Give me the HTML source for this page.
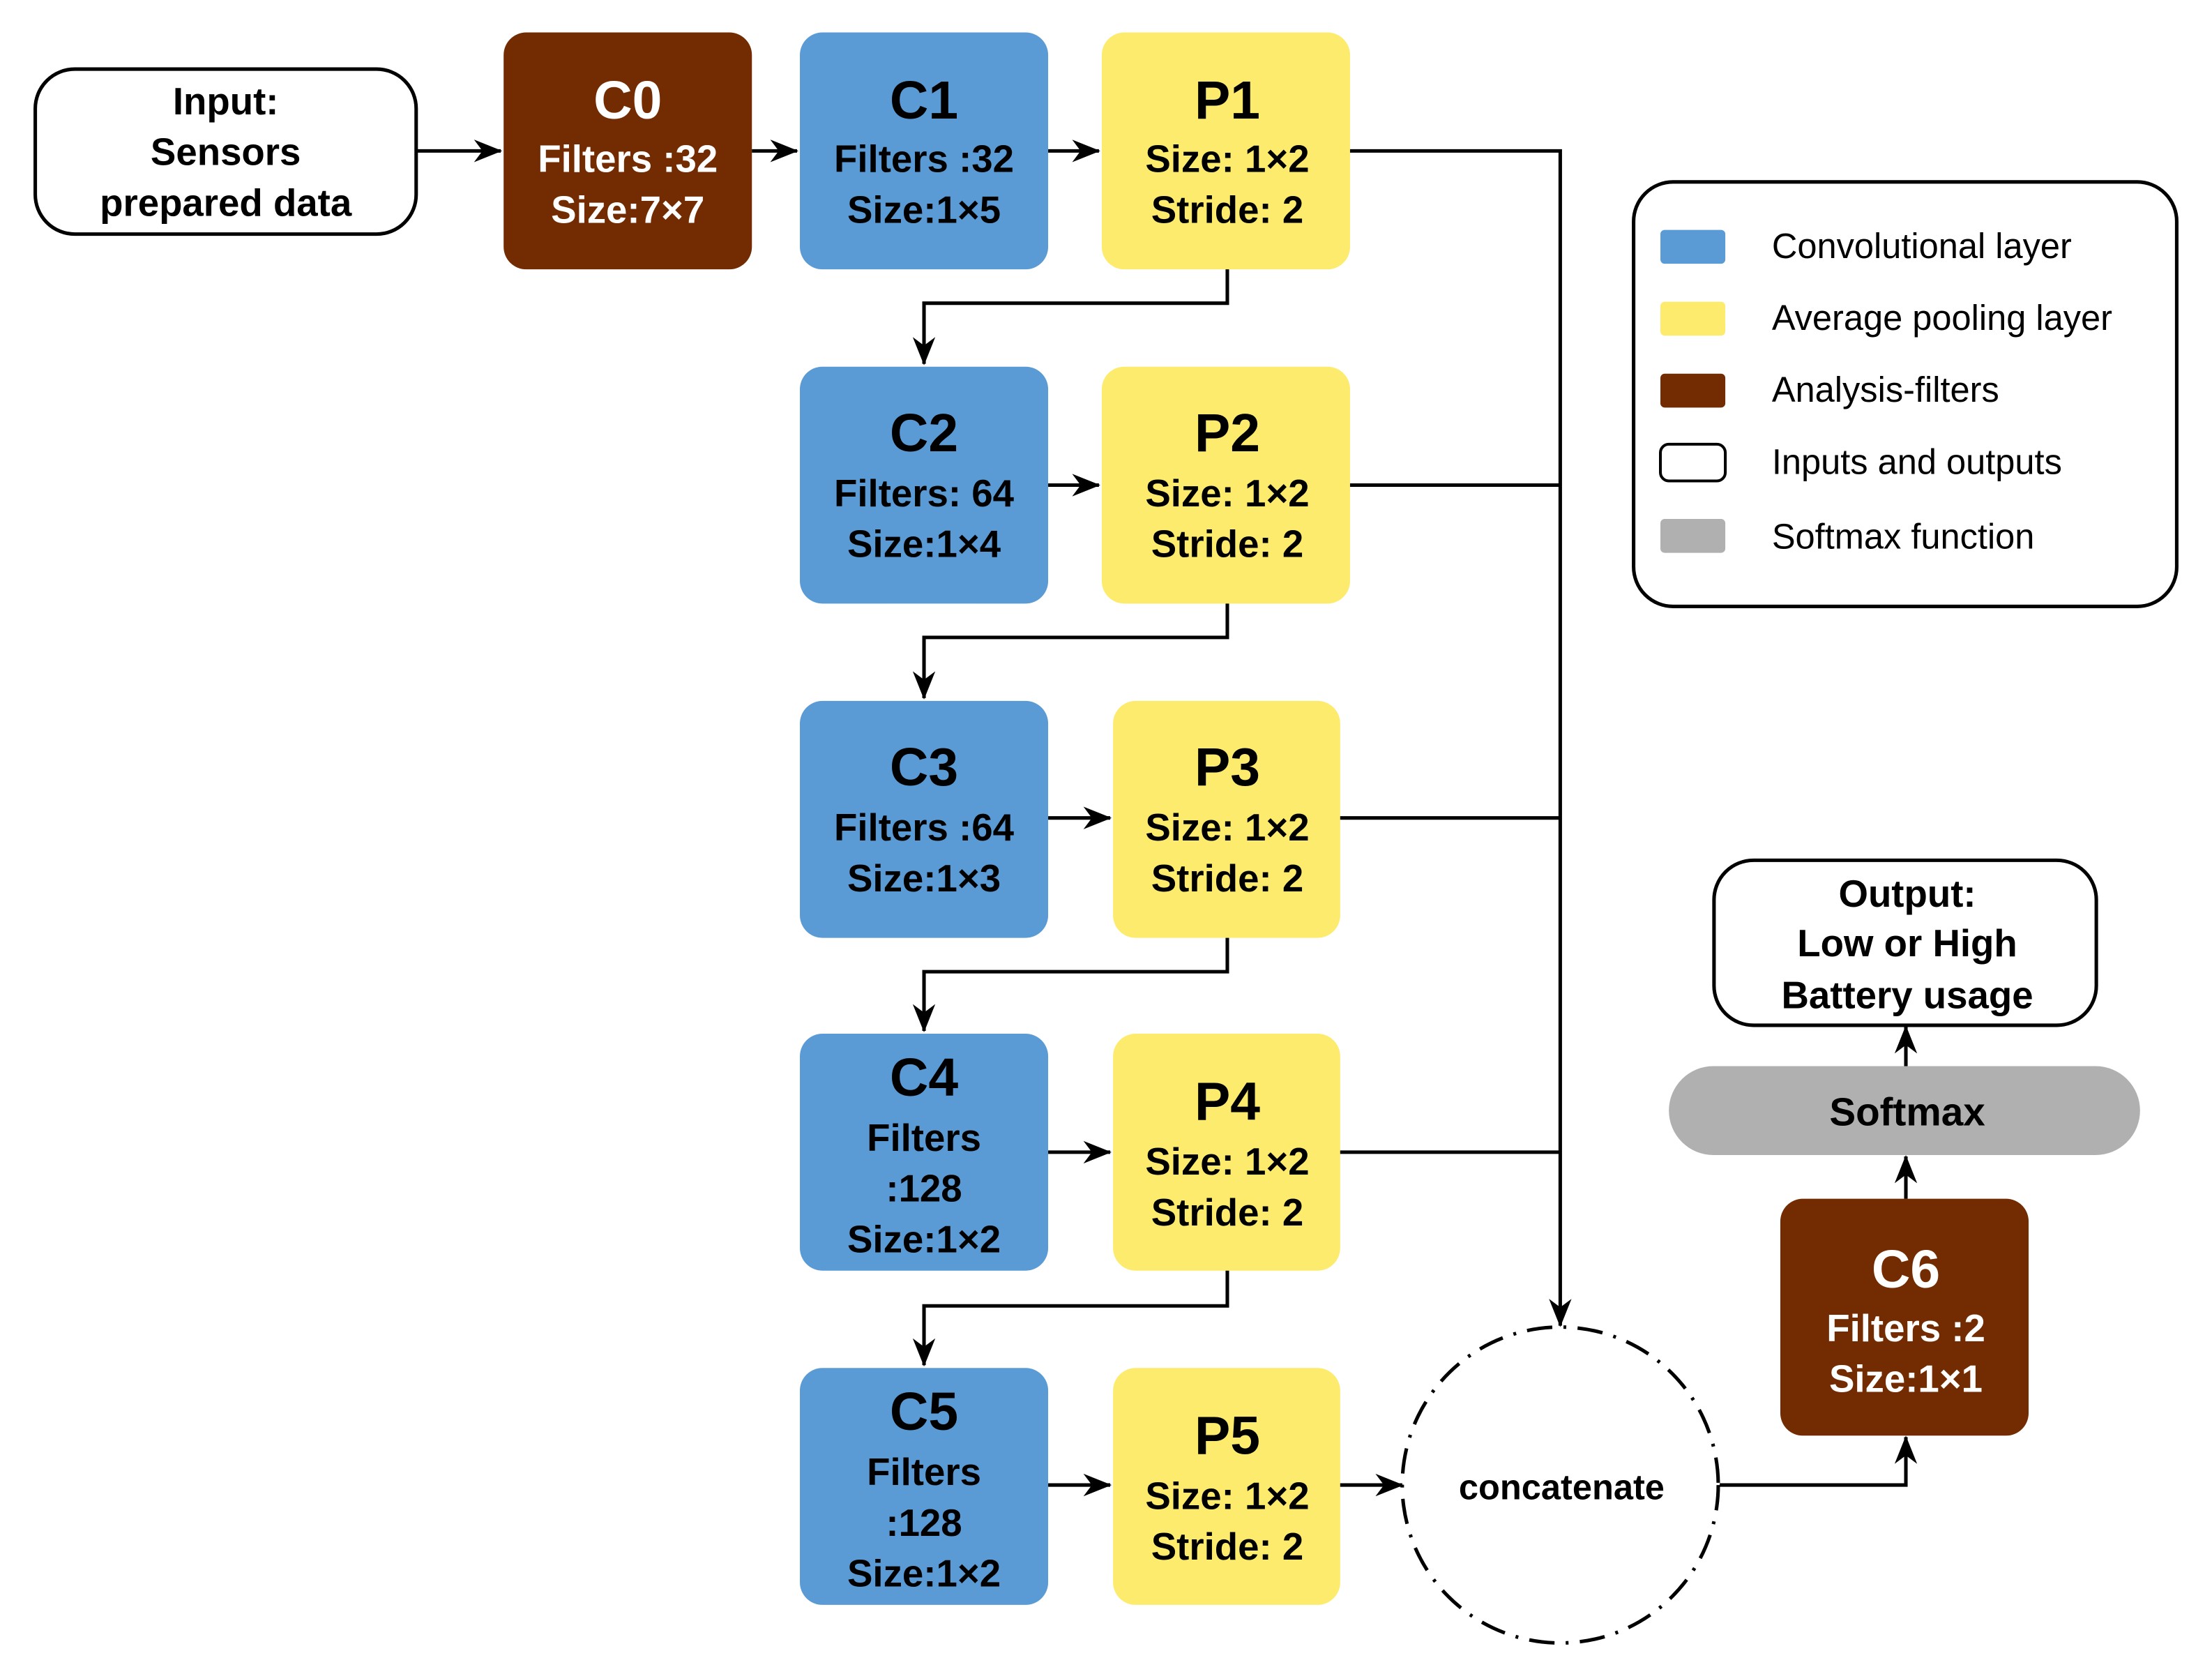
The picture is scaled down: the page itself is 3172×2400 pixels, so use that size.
<!DOCTYPE html>
<html><head><meta charset="utf-8"><style>
html,body{margin:0;padding:0;background:#fff;}
svg{display:block;}
text{font-family:"Liberation Sans",Arial,sans-serif;}
</style></head><body>
<svg width="3172" height="2400" viewBox="0 0 1568 1187" preserveAspectRatio="none" xmlns="http://www.w3.org/2000/svg">
<defs>
<marker id="a" markerWidth="20" markerHeight="16" refX="19" refY="8" orient="auto" markerUnits="userSpaceOnUse" viewBox="0 0 20 16">
<path d="M0,0 L20,8 L0,16 L6,8 z" fill="#000"/>
</marker>
</defs>
<g font-weight="bold" text-anchor="middle">
<rect x="25" y="49" width="270" height="117" rx="28" fill="#fff" stroke="#000" stroke-width="2.5"/>
<text x="160" y="81" font-size="27">Input:</text>
<text x="160" y="117" font-size="27">Sensors</text>
<text x="160" y="153" font-size="27">prepared data</text>

<rect x="357" y="23" width="176" height="168" rx="16" fill="#732C02"/>
<text x="445" y="84" font-size="38" fill="#fff">C0</text>
<text x="445" y="122" font-size="27" fill="#fff">Filters :32</text>
<text x="445" y="158" font-size="27" fill="#fff">Size:7×7</text>

<rect x="567" y="23" width="176" height="168" rx="16" fill="#5B9BD5"/>
<text x="655" y="84" font-size="38">C1</text>
<text x="655" y="122" font-size="27">Filters :32</text>
<text x="655" y="158" font-size="27">Size:1×5</text>

<rect x="567" y="260" width="176" height="168" rx="16" fill="#5B9BD5"/>
<text x="655" y="320" font-size="38">C2</text>
<text x="655" y="359" font-size="27">Filters: 64</text>
<text x="655" y="395" font-size="27">Size:1×4</text>

<rect x="567" y="497" width="176" height="168" rx="16" fill="#5B9BD5"/>
<text x="655" y="557" font-size="38">C3</text>
<text x="655" y="596" font-size="27">Filters :64</text>
<text x="655" y="632" font-size="27">Size:1×3</text>

<rect x="567" y="733" width="176" height="168" rx="16" fill="#5B9BD5"/>
<text x="655" y="777" font-size="38">C4</text>
<text x="655" y="816" font-size="27">Filters</text>
<text x="655" y="852" font-size="27">:128</text>
<text x="655" y="888" font-size="27">Size:1×2</text>

<rect x="567" y="970" width="176" height="168" rx="16" fill="#5B9BD5"/>
<text x="655" y="1014" font-size="38">C5</text>
<text x="655" y="1053" font-size="27">Filters</text>
<text x="655" y="1089" font-size="27">:128</text>
<text x="655" y="1125" font-size="27">Size:1×2</text>

<rect x="781" y="23" width="176" height="168" rx="16" fill="#FDEB6E"/>
<text x="870" y="84" font-size="38">P1</text>
<text x="870" y="122" font-size="27">Size: 1×2</text>
<text x="870" y="158" font-size="27">Stride: 2</text>

<rect x="781" y="260" width="176" height="168" rx="16" fill="#FDEB6E"/>
<text x="870" y="320" font-size="38">P2</text>
<text x="870" y="359" font-size="27">Size: 1×2</text>
<text x="870" y="395" font-size="27">Stride: 2</text>

<rect x="789" y="497" width="161" height="168" rx="16" fill="#FDEB6E"/>
<text x="870" y="557" font-size="38">P3</text>
<text x="870" y="596" font-size="27">Size: 1×2</text>
<text x="870" y="632" font-size="27">Stride: 2</text>

<rect x="789" y="733" width="161" height="168" rx="16" fill="#FDEB6E"/>
<text x="870" y="794" font-size="38">P4</text>
<text x="870" y="833" font-size="27">Size: 1×2</text>
<text x="870" y="869" font-size="27">Stride: 2</text>

<rect x="789" y="970" width="161" height="168" rx="16" fill="#FDEB6E"/>
<text x="870" y="1031" font-size="38">P5</text>
<text x="870" y="1070" font-size="27">Size: 1×2</text>
<text x="870" y="1106" font-size="27">Stride: 2</text>

<circle cx="1106" cy="1053" r="112" fill="none" stroke="#000" stroke-width="2.5" stroke-dasharray="18 8 2 8"/>
<text x="1107" y="1063" font-size="25">concatenate</text>

<rect x="1262" y="850" width="176" height="168" rx="16" fill="#732C02"/>
<text x="1351" y="913" font-size="38" fill="#fff">C6</text>
<text x="1351" y="951" font-size="27" fill="#fff">Filters :2</text>
<text x="1351" y="987" font-size="27" fill="#fff">Size:1×1</text>

<rect x="1183" y="756" width="334" height="63" rx="31.5" fill="#B0B0B0"/>
<text x="1352" y="798" font-size="28">Softmax</text>

<rect x="1215" y="610" width="271" height="117" rx="28" fill="#fff" stroke="#000" stroke-width="2.5"/>
<text x="1352" y="643" font-size="27">Output:</text>
<text x="1352" y="678" font-size="27">Low or High</text>
<text x="1352" y="715" font-size="27">Battery usage</text>
</g>

<g fill="none" stroke="#000" stroke-width="2.5">
<line x1="295" y1="107" x2="355" y2="107" marker-end="url(#a)"/>
<line x1="533" y1="107" x2="565" y2="107" marker-end="url(#a)"/>
<line x1="743" y1="107" x2="779" y2="107" marker-end="url(#a)"/>
<line x1="743" y1="344" x2="779" y2="344" marker-end="url(#a)"/>
<line x1="743" y1="580" x2="787" y2="580" marker-end="url(#a)"/>
<line x1="743" y1="817" x2="787" y2="817" marker-end="url(#a)"/>
<line x1="743" y1="1053" x2="787" y2="1053" marker-end="url(#a)"/>
<polyline points="870,191 870,215 655,215 655,258" marker-end="url(#a)"/>
<polyline points="870,428 870,452 655,452 655,495" marker-end="url(#a)"/>
<polyline points="870,665 870,689 655,689 655,731" marker-end="url(#a)"/>
<polyline points="870,901 870,926 655,926 655,968" marker-end="url(#a)"/>
<polyline points="957,107 1106,107 1106,940" marker-end="url(#a)"/>
<line x1="957" y1="344" x2="1106" y2="344"/>
<line x1="950" y1="580" x2="1106" y2="580"/>
<line x1="950" y1="817" x2="1106" y2="817"/>
<line x1="950" y1="1053" x2="994" y2="1053" marker-end="url(#a)"/>
<polyline points="1219,1053 1351,1053 1351,1019" marker-end="url(#a)"/>
<line x1="1351" y1="850" x2="1351" y2="820" marker-end="url(#a)"/>
<line x1="1351" y1="756" x2="1351" y2="728" marker-end="url(#a)"/>
</g>

<rect x="1158" y="129" width="385" height="301" rx="28" fill="#fff" stroke="#000" stroke-width="2.5"/>
<rect x="1177" y="163" width="46" height="24" rx="3" fill="#5B9BD5"/>
<rect x="1177" y="214" width="46" height="24" rx="3" fill="#FDEB6E"/>
<rect x="1177" y="265" width="46" height="24" rx="3" fill="#732C02"/>
<rect x="1177" y="315" width="46" height="26" rx="6" fill="#fff" stroke="#000" stroke-width="2"/>
<rect x="1177" y="368" width="46" height="24" rx="3" fill="#B0B0B0"/>
<g font-size="25">
<text x="1256" y="183">Convolutional layer</text>
<text x="1256" y="234">Average pooling layer</text>
<text x="1256" y="285">Analysis-filters</text>
<text x="1256" y="336">Inputs and outputs</text>
<text x="1256" y="389">Softmax function</text>
</g>
</svg>
</body></html>
